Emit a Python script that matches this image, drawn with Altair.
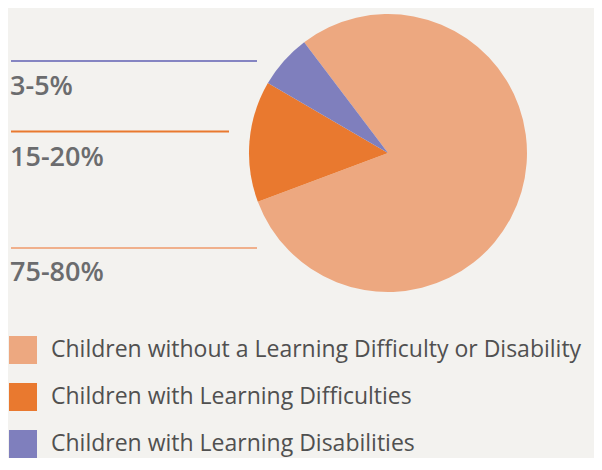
import math
import altair as alt
import pandas as pd

# ---- data ----
categories = [
    "Children without a Learning Difficulty or Disability",
    "Children with Learning Difficulties",
    "Children with Learning Disabilities",
]
shares = [79.6, 14.1, 6.3]
range_labels = ["75-80%", "15-20%", "3-5%"]
colors = ["#eda880", "#e9792f", "#7f7fbd"]
line_colors = ["#f0b08c", "#e9792f", "#8585c2"]

df = pd.DataFrame({"category": categories, "share": shares, "idx": list(range(len(categories)))})

BG = "#f3f2ef"
start = math.radians(-37.1)

color_scale = alt.Scale(domain=categories, range=colors)

pie = alt.Chart(df).mark_arc(radius=139, stroke=None).encode(
    theta=alt.Theta("share:Q", stack=True, scale=alt.Scale(range=[start, start + 2 * math.pi])),
    order=alt.Order("idx:Q", sort="ascending"),
    color=alt.Color(
        "category:N",
        scale=color_scale,
        sort=categories,
        legend=alt.Legend(
            title=None,
            orient="none",
            legendX=1,
            legendY=328,
            direction="vertical",
            symbolType="square",
            symbolSize=784,
            symbolStrokeWidth=0,
            symbolOpacity=1,
            rowPadding=19,
            labelOffset=14,
            labelFont="Open Sans",
            labelFontSize=23,
            labelColor="#505050",
            labelLimit=700,
            padding=0,
        ),
    ),
    x=alt.value(380),
    y=alt.value(145),
)

# annotation geometry (layout, not data)
rule_geom = {
    "3-5%": (3, 249, 53),
    "15-20%": (3, 221, 123.5),
    "75-80%": (3, 249, 240),
}
text_base = {"3-5%": 87, "15-20%": 158, "75-80%": 273}

layers = [pie]
for cat, lab, lc in zip(categories, range_labels, line_colors):
    x1, x2, yy = rule_geom[lab]
    base = alt.Chart(df).transform_filter(alt.datum.category == cat)
    layers.append(
        base.mark_rule(strokeWidth=2, color=lc).encode(
            x=alt.value(x1), x2=alt.value(x2), y=alt.value(yy)
        )
    )
    layers.append(
        base.mark_text(
            text=lab,
            align="left",
            baseline="alphabetic",
            font="Open Sans",
            fontSize=27,
            fontWeight=600,
            color="#6b6c6e",
        ).encode(x=alt.value(2), y=alt.value(text_base[lab]))
    )

chart = (
    alt.layer(*layers)
    .properties(width=586, height=450, background=BG, padding=0, autosize=alt.AutoSizeParams(type="none"))
    .configure_view(stroke=None)
)

chart.save("out.html", embed_options={"renderer": "svg", "actions": False})
